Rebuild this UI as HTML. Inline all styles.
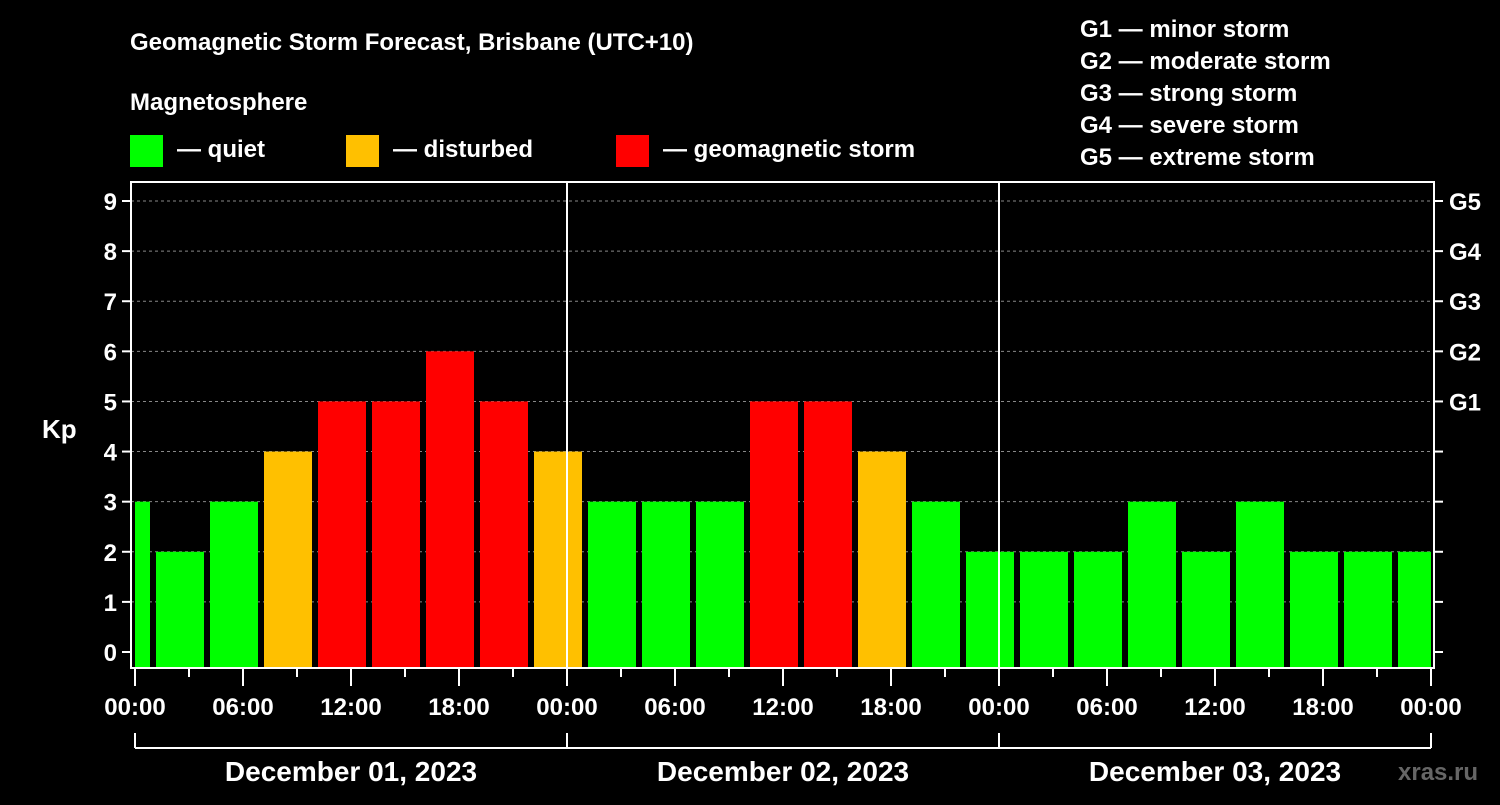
<!DOCTYPE html>
<html><head><meta charset="utf-8"><style>
body{margin:0;background:#000;width:1500px;height:800px;overflow:hidden}
text{font-family:"Liberation Sans",sans-serif;font-weight:bold;fill:#fff}
</style></head><body>
<svg id="chart" width="1500" height="800" viewBox="0 0 1500 800">
<text x="130" y="50" font-size="24">Geomagnetic Storm Forecast, Brisbane (UTC+10)</text>
<text x="130" y="110" font-size="24">Magnetosphere</text>
<g><rect x="130" y="135" width="33" height="32" fill="#00ff00"/><text x="177" y="157" font-size="24">— quiet</text></g>
<g><rect x="346" y="135" width="33" height="32" fill="#ffc000"/><text x="393" y="157" font-size="24">— disturbed</text></g>
<g><rect x="616" y="135" width="33" height="32" fill="#ff0000"/><text x="663" y="157" font-size="24">— geomagnetic storm</text></g>
<g font-size="24">
<text x="1080" y="37">G1 — minor storm</text>
<text x="1080" y="69">G2 — moderate storm</text>
<text x="1080" y="101">G3 — strong storm</text>
<text x="1080" y="133">G4 — severe storm</text>
<text x="1080" y="165">G5 — extreme storm</text>
</g>
<g id="grid"></g><g id="bars"></g><g id="axes"></g>
<text x="42" y="438" font-size="26">Kp</text>
<text x="1398" y="780" font-size="24" fill="#666" style="fill:#666">xras.ru</text>
</svg>
<script>
const kpValues=[3,2,3,4,5,5,6,5,4,3,3,3,5,5,4,3,2,2,2,3,2,3,2,2,2];
const barStartHours=[-2,1,4,7,10,13,16,19,22,25,28,31,34,37,40,43,46,49,52,55,58,61,64,67,70];
const xTickLabels=["00:00","06:00","12:00","18:00","00:00","06:00","12:00","18:00","00:00","06:00","12:00","18:00","00:00"];
const dayLabels=["December 01, 2023","December 02, 2023","December 03, 2023"];
const gLabels=["G1","G2","G3","G4","G5"];
const NS="http://www.w3.org/2000/svg";
const x=h=>135+h*18;
const y=v=>652-v*50.11;
const L=131,R=1434,T=182,B=668;
function mk(tag,at,parent){const e=document.createElementNS(NS,tag);for(const k in at)e.setAttribute(k,at[k]);document.getElementById(parent).appendChild(e);return e;}
for(let v=1;v<=9;v++){const e=mk('line',{x1:L,x2:R,y1:y(v),y2:y(v),stroke:'#888','stroke-dasharray':'3,3','stroke-width':1},'grid');

}
kpValues.forEach((v,i)=>{let x0=Math.max(x(barStartHours[i])+3,x(0)),x1=Math.min(x(barStartHours[i]+3)-3,x(72));
const c=v>=5?'#ff0000':v>=4?'#ffc000':'#00ff00';
const e=mk('rect',{x:x0,y:y(v),width:x1-x0,height:B-1-y(v),fill:c},'bars');

});
[24,48].forEach(h=>{const e=mk('line',{x1:x(h),x2:x(h),y1:T,y2:B,stroke:'#fff','stroke-width':2},'axes');

});
const fr=mk('rect',{x:L,y:T,width:R-L,height:B-T,fill:'none',stroke:'#fff','stroke-width':2},'axes');


for(let v=0;v<=9;v++){mk('line',{x1:L-9,x2:L,y1:y(v),y2:y(v),stroke:'#fff','stroke-width':2},'axes');
mk('line',{x1:R,x2:R+9,y1:y(v),y2:y(v),stroke:'#fff','stroke-width':2},'axes');
const t=mk('text',{x:L-14,y:y(v)+9,'font-size':24,'text-anchor':'end'},'axes');t.textContent=v;

}
gLabels.forEach((g,i)=>{const t=mk('text',{x:1449,y:y(i+5)+9,'font-size':24},'axes');t.textContent=g;

});
for(let h=0;h<=72;h+=3){mk('line',{x1:x(h),x2:x(h),y1:B,y2:h%6?677:686,stroke:'#fff','stroke-width':2},'axes');}
xTickLabels.forEach((s,i)=>{const t=mk('text',{x:x(i*6),y:715,'font-size':24,'text-anchor':'middle'},'axes');t.textContent=s;

});
mk('line',{x1:x(0),x2:x(72),y1:748,y2:748,stroke:'#fff','stroke-width':2},'axes');
[0,24,48,72].forEach(h=>mk('line',{x1:x(h),x2:x(h),y1:733,y2:748,stroke:'#fff','stroke-width':2},'axes'));
dayLabels.forEach((s,i)=>{const t=mk('text',{x:x(i*24+12),y:781,'font-size':28,'text-anchor':'middle'},'axes');t.textContent=s;

});
</script>
</body></html>
